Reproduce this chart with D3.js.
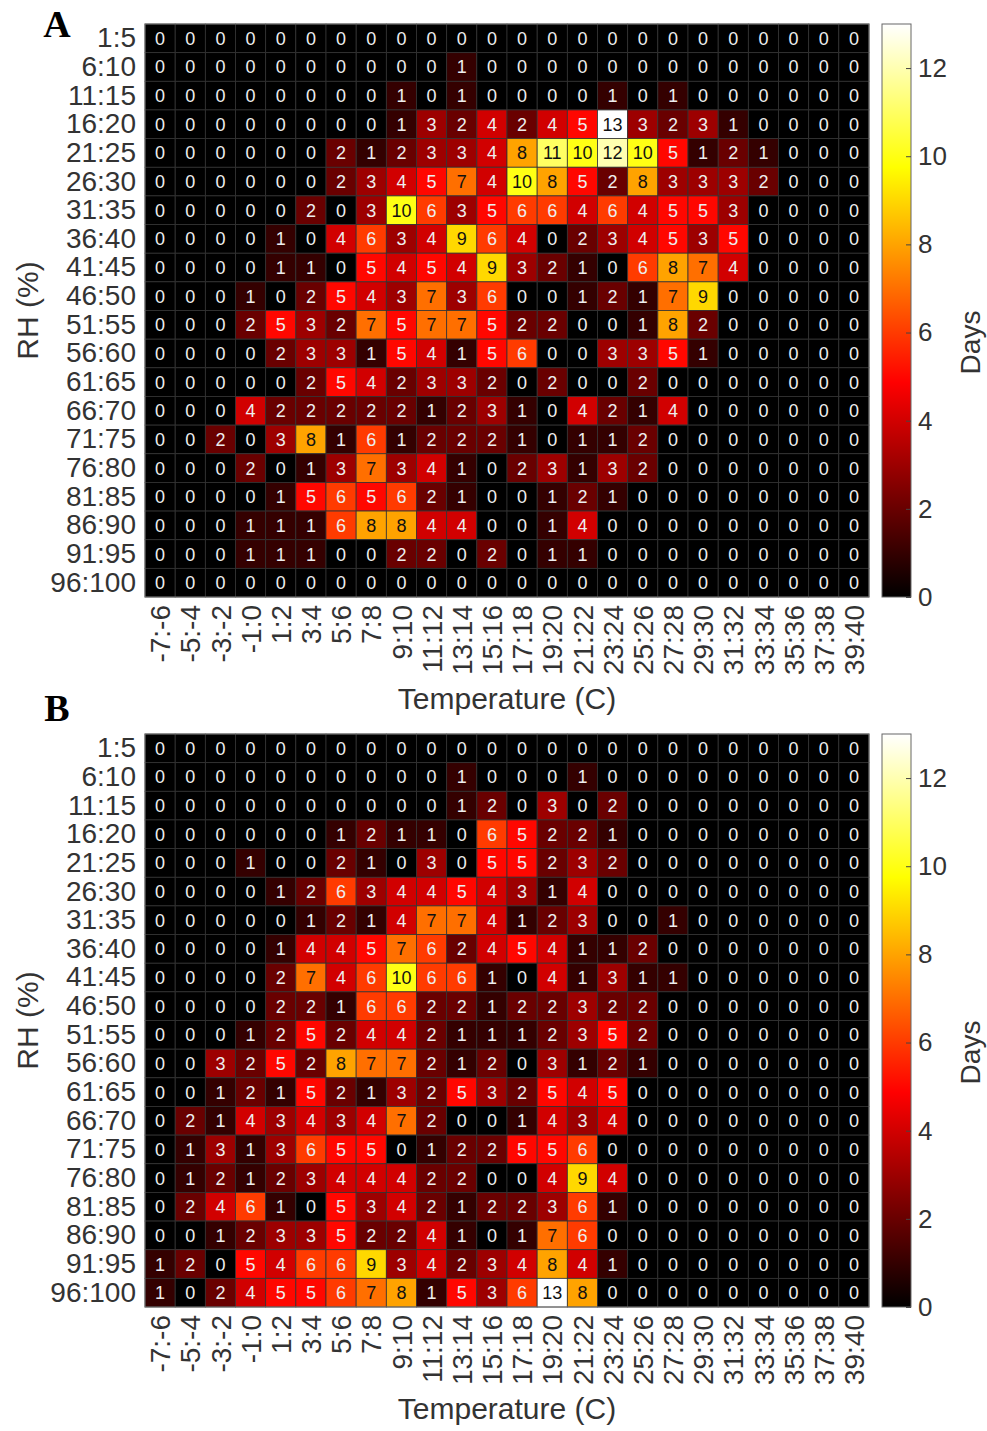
<!DOCTYPE html>
<html>
<head>
	<meta charset="utf-8">
	<title>RH vs Temperature heatmaps</title>
</head>
<script src="https://d3js.org/d3.v7.min.js"></script>
<style>
	body { margin: 0; background: #fff; }
	text { font-family: "Liberation Sans", Arial, sans-serif; }
</style>
<body>

<div id="viz"></div>

<script>

// bins
var tempBins = ["-7:-6","-5:-4","-3:-2","-1:0","1:2","3:4","5:6","7:8","9:10","11:12","13:14","15:16",
	"17:18","19:20","21:22","23:24","25:26","27:28","29:30","31:32","33:34","35:36","37:38","39:40"];
var rhBins = ["1:5","6:10","11:15","16:20","21:25","26:30","31:35","36:40","41:45","46:50",
	"51:55","56:60","61:65","66:70","71:75","76:80","81:85","86:90","91:95","96:100"];

// panel A counts (rows = RH bins, cols = temperature bins)
var daysA = [
	[0,0,0,0,0,0,0,0,0,0,0,0, 0,0,0,0,0,0,0,0,0,0,0,0],
	[0,0,0,0,0,0,0,0,0,0,1,0, 0,0,0,0,0,0,0,0,0,0,0,0],
	[0,0,0,0,0,0,0,0,1,0,1,0, 0,0,0,1,0,1,0,0,0,0,0,0],
	[0,0,0,0,0,0,0,0,1,3,2,4, 2,4,5,13,3,2,3,1,0,0,0,0],
	[0,0,0,0,0,0,2,1,2,3,3,4, 8,11,10,12,10,5,1,2,1,0,0,0],
	[0,0,0,0,0,0,2,3,4,5,7,4, 10,8,5,2,8,3,3,3,2,0,0,0],
	[0,0,0,0,0,2,0,3,10,6,3,5, 6,6,4,6,4,5,5,3,0,0,0,0],
	[0,0,0,0,1,0,4,6,3,4,9,6, 4,0,2,3,4,5,3,5,0,0,0,0],
	[0,0,0,0,1,1,0,5,4,5,4,9, 3,2,1,0,6,8,7,4,0,0,0,0],
	[0,0,0,1,0,2,5,4,3,7,3,6, 0,0,1,2,1,7,9,0,0,0,0,0],
	[0,0,0,2,5,3,2,7,5,7,7,5, 2,2,0,0,1,8,2,0,0,0,0,0],
	[0,0,0,0,2,3,3,1,5,4,1,5, 6,0,0,3,3,5,1,0,0,0,0,0],
	[0,0,0,0,0,2,5,4,2,3,3,2, 0,2,0,0,2,0,0,0,0,0,0,0],
	[0,0,0,4,2,2,2,2,2,1,2,3, 1,0,4,2,1,4,0,0,0,0,0,0],
	[0,0,2,0,3,8,1,6,1,2,2,2, 1,0,1,1,2,0,0,0,0,0,0,0],
	[0,0,0,2,0,1,3,7,3,4,1,0, 2,3,1,3,2,0,0,0,0,0,0,0],
	[0,0,0,0,1,5,6,5,6,2,1,0, 0,1,2,1,0,0,0,0,0,0,0,0],
	[0,0,0,1,1,1,6,8,8,4,4,0, 0,1,4,0,0,0,0,0,0,0,0,0],
	[0,0,0,1,1,1,0,0,2,2,0,2, 0,1,1,0,0,0,0,0,0,0,0,0],
	[0,0,0,0,0,0,0,0,0,0,0,0, 0,0,0,0,0,0,0,0,0,0,0,0]
];

// panel B counts
var daysB = [
	[0,0,0,0,0,0,0,0,0,0,0,0, 0,0,0,0,0,0,0,0,0,0,0,0],
	[0,0,0,0,0,0,0,0,0,0,1,0, 0,0,1,0,0,0,0,0,0,0,0,0],
	[0,0,0,0,0,0,0,0,0,0,1,2, 0,3,0,2,0,0,0,0,0,0,0,0],
	[0,0,0,0,0,0,1,2,1,1,0,6, 5,2,2,1,0,0,0,0,0,0,0,0],
	[0,0,0,1,0,0,2,1,0,3,0,5, 5,2,3,2,0,0,0,0,0,0,0,0],
	[0,0,0,0,1,2,6,3,4,4,5,4, 3,1,4,0,0,0,0,0,0,0,0,0],
	[0,0,0,0,0,1,2,1,4,7,7,4, 1,2,3,0,0,1,0,0,0,0,0,0],
	[0,0,0,0,1,4,4,5,7,6,2,4, 5,4,1,1,2,0,0,0,0,0,0,0],
	[0,0,0,0,2,7,4,6,10,6,6,1, 0,4,1,3,1,1,0,0,0,0,0,0],
	[0,0,0,0,2,2,1,6,6,2,2,1, 2,2,3,2,2,0,0,0,0,0,0,0],
	[0,0,0,1,2,5,2,4,4,2,1,1, 1,2,3,5,2,0,0,0,0,0,0,0],
	[0,0,3,2,5,2,8,7,7,2,1,2, 0,3,1,2,1,0,0,0,0,0,0,0],
	[0,0,1,2,1,5,2,1,3,2,5,3, 2,5,4,5,0,0,0,0,0,0,0,0],
	[0,2,1,4,3,4,3,4,7,2,0,0, 1,4,3,4,0,0,0,0,0,0,0,0],
	[0,1,3,1,3,6,5,5,0,1,2,2, 5,5,6,0,0,0,0,0,0,0,0,0],
	[0,1,2,1,2,3,4,4,4,2,2,0, 0,4,9,4,0,0,0,0,0,0,0,0],
	[0,2,4,6,1,0,5,3,4,2,1,2, 2,3,6,1,0,0,0,0,0,0,0,0],
	[0,0,1,2,3,3,5,2,2,4,1,0, 1,7,6,0,0,0,0,0,0,0,0,0],
	[1,2,0,5,4,6,6,9,3,4,2,3, 4,8,4,1,0,0,0,0,0,0,0,0],
	[1,0,2,4,5,5,6,7,8,1,5,3, 6,13,8,0,0,0,0,0,0,0,0,0]
];

var cbTicks = [0,2,4,6,8,10,12];
var cMax = 13;

// layout
var plotLeft = 145, plotRight = 869, plotH = 573;
var panels = [
	{ letter: "A", data: daysA, top: 24, letterY: 37 },
	{ letter: "B", data: daysB, top: 734, letterY: 721 }
];
var cbLeft = 882, cbW = 29;

var svg = d3.select("#viz")
	.append("svg")
		.attr("width", 987)
		.attr("height", 1431);

// MATLAB-style "hot" colormap
function hot(v) {
	var t = Math.max(0, Math.min(1, v / cMax));
	var r = Math.min(1, t / 0.375),
		g = Math.max(0, Math.min(1, (t - 0.375) / 0.375)),
		b = Math.max(0, Math.min(1, (t - 0.75) / 0.25));
	return d3.rgb(r * 255, g * 255, b * 255).toString();
}

// gradient for the colorbar
var grad = svg.append("defs").append("linearGradient")
	.attr("id", "hotgrad")
	.attr("x1", 0).attr("y1", 1).attr("x2", 0).attr("y2", 0);
d3.range(0, 1.0001, 0.025).forEach(function(s) {
	grad.append("stop").attr("offset", s).attr("stop-color", hot(s * cMax));
});

var x = d3.scaleBand().domain(tempBins).range([plotLeft, plotRight]);

panels.forEach(function(p) {
	var g = svg.append("g");
	var y = d3.scaleBand().domain(rhBins).range([p.top, p.top + plotH]);

	var cells = [];
	p.data.forEach(function(row, i) {
		row.forEach(function(v, j) {
			cells.push({ rh: rhBins[i], t: tempBins[j], v: v });
		});
	});

	g.selectAll("rect.cell")
		.data(cells)
		.enter().append("rect")
			.attr("class", "cell")
			.attr("x", function(d) { return x(d.t); })
			.attr("y", function(d) { return y(d.rh); })
			.attr("width", x.bandwidth())
			.attr("height", y.bandwidth())
			.attr("fill", function(d) { return hot(d.v); })
			.attr("stroke", "#333")
			.attr("stroke-width", 0.8);

	g.selectAll("text.val")
		.data(cells)
		.enter().append("text")
			.attr("class", "val")
			.attr("x", function(d) { return x(d.t) + x.bandwidth() / 2; })
			.attr("y", function(d) { return y(d.rh) + y.bandwidth() / 2; })
			.attr("dy", "0.36em")
			.attr("text-anchor", "middle")
			.style("font-size", "18px")
			.attr("fill", function(d) { return d.v >= 7 ? "#111" : "#eee"; })
			.text(function(d) { return d.v; });

	// frame
	g.append("rect")
		.attr("x", plotLeft).attr("y", p.top)
		.attr("width", plotRight - plotLeft).attr("height", plotH)
		.attr("fill", "none").attr("stroke", "#777").attr("stroke-width", 1);

	// y axis
	var ya = g.append("g")
		.attr("transform", "translate(" + plotLeft + ",0)")
		.call(d3.axisLeft(y).tickSize(0).tickPadding(9));
	ya.select(".domain").remove();
	ya.selectAll("text").style("font-size", "28px").attr("fill", "#333");

	// x axis
	var xa = g.append("g")
		.attr("transform", "translate(0," + (p.top + plotH) + ")")
		.call(d3.axisBottom(x).tickSize(0));
	xa.select(".domain").remove();
	xa.selectAll("text")
		.attr("transform", "rotate(-90)")
		.attr("x", -8).attr("y", 0).attr("dy", "0.36em")
		.style("text-anchor", "end")
		.style("font-size", "28px")
		.attr("fill", "#333");

	// axis titles
	g.append("text")
		.attr("x", (plotLeft + plotRight) / 2)
		.attr("y", p.top + plotH + 112)
		.attr("text-anchor", "middle")
		.style("font-size", "30px").attr("fill", "#333")
		.text("Temperature (C)");

	g.append("text")
		.attr("transform", "translate(38," + (p.top + plotH / 2) + ") rotate(-90)")
		.attr("text-anchor", "middle")
		.style("font-size", "30px").attr("fill", "#333")
		.text("RH (%)");

	// panel letter
	g.append("text")
		.attr("x", 57).attr("y", p.letterY)
		.attr("text-anchor", "middle")
		.style("font-family", "'Liberation Serif', 'Times New Roman', serif")
		.style("font-weight", "bold")
		.style("font-size", "38px")
		.attr("fill", "#000")
		.text(p.letter);

	// colorbar
	var cb = d3.scaleLinear().domain([0, cMax]).range([p.top + plotH, p.top]);
	g.append("rect")
		.attr("x", cbLeft).attr("y", p.top)
		.attr("width", cbW).attr("height", plotH)
		.attr("fill", "url(#hotgrad)")
		.attr("stroke", "#666").attr("stroke-width", 1);

	var ca = g.append("g")
		.attr("transform", "translate(" + (cbLeft + cbW) + ",0)")
		.call(d3.axisRight(cb).tickValues(cbTicks).tickSize(-5).tickPadding(7));
	ca.select(".domain").remove();
	ca.selectAll("line").attr("stroke", "#444");
	ca.selectAll("text").style("font-size", "26px").attr("fill", "#333");

	g.append("text")
		.attr("transform", "translate(980," + (p.top + plotH / 2 + 32) + ") rotate(-90)")
		.attr("text-anchor", "middle")
		.style("font-size", "28px").attr("fill", "#333")
		.text("Days");
});

</script>

</body>
</html>
